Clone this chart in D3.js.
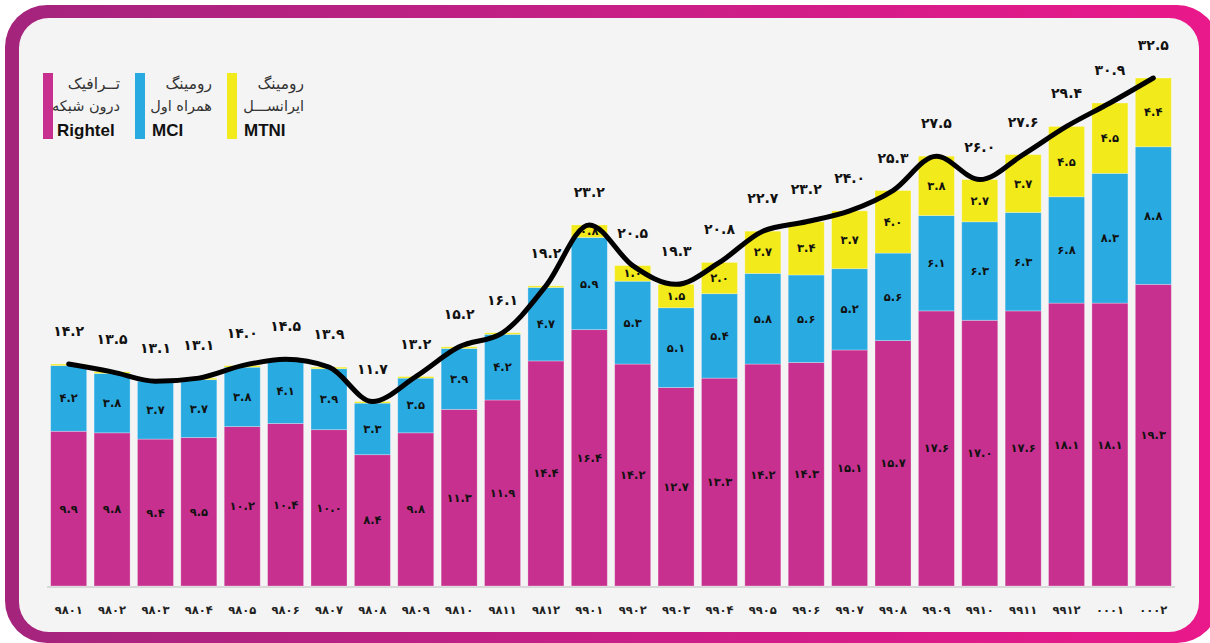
<!DOCTYPE html>
<html><head><meta charset="utf-8">
<script src="https://cdn.jsdelivr.net/npm/d3@7/dist/d3.min.js"></script>
<style>html,body{margin:0;padding:0;background:#fff;} svg{display:block;}</style>
</head><body><svg id="c" width="1210" height="643"></svg>
<script>
// ---- data ----
const months = ["۹۸۰۱","۹۸۰۲","۹۸۰۳","۹۸۰۴","۹۸۰۵","۹۸۰۶","۹۸۰۷","۹۸۰۸","۹۸۰۹","۹۸۱۰","۹۸۱۱","۹۸۱۲",
                "۹۹۰۱","۹۹۰۲","۹۹۰۳","۹۹۰۴","۹۹۰۵","۹۹۰۶","۹۹۰۷","۹۹۰۸","۹۹۰۹","۹۹۱۰","۹۹۱۱","۹۹۱۲","۰۰۰۱","۰۰۰۲"];
const rightel = [9.9,9.8,9.4,9.5,10.2,10.4,10.0,8.4,9.8,11.3,11.9,14.4,16.4,14.2,12.7,13.3,14.2,14.3,15.1,15.7,17.6,17.0,17.6,18.1,18.1,19.3];
const mci     = [4.2,3.8,3.7,3.7,3.8,4.1,3.9,3.3,3.5,3.9,4.2,4.7,5.9,5.3,5.1,5.4,5.8,5.6,5.2,5.6,6.1,6.3,6.3,6.8,8.3,8.8];
const mtni    = [0.1,0.1,0.0,0.1,0.1,0.0,0.1,0.1,0.1,0.1,0.1,0.1,0.8,1.0,1.5,2.0,2.7,3.4,3.7,4.0,3.8,2.7,3.7,4.5,4.5,4.4];
const totals  = [14.2,13.5,13.1,13.1,14.0,14.5,13.9,11.7,13.2,15.2,16.1,19.2,23.2,20.5,19.3,20.8,22.7,23.2,24.0,25.3,27.5,26.0,27.6,29.4,30.9,32.5];
const seriesKeys = ["rightel","mci","mtni"];
const seriesColors = ["#c8308f","#29abe2","#f3ea1b"];
const legendLine1 = ["تــرافیک","رومینگ","رومینگ"];
const legendLine2 = ["درون شبکه","همراه اول","ایرانســـل"];
const legendLatin = ["Rightel","MCI","MTNI"];

// ---- helpers ----
const faDigits = "۰۱۲۳۴۵۶۷۸۹";
const toFa = s => String(s).replace(/[0-9]/g, d => faDigits[+d]);
const fmt = v => toFa(v.toFixed(1));

const svg = d3.select("#c");
const W = 1210, H = 643;

// ---- frame ----
const defs = svg.append("defs");
const grad = defs.append("linearGradient").attr("id","frameGrad").attr("x1","0").attr("x2","1").attr("y1","0").attr("y2","0");
grad.append("stop").attr("offset","0").attr("stop-color","#a4247c");
grad.append("stop").attr("offset","0.5").attr("stop-color","#c71f86");
grad.append("stop").attr("offset","1").attr("stop-color","#ea188b");
svg.append("rect").attr("x",0).attr("y",0).attr("width",W).attr("height",H).attr("fill","#fff");
svg.append("rect").attr("x",5).attr("y",5).attr("width",1214).attr("height",638).attr("rx",42).attr("ry",42).attr("fill","url(#frameGrad)");
svg.append("rect").attr("x",19).attr("y",18).attr("width",1180).attr("height",614).attr("rx",30).attr("ry",30).attr("fill","#f4f4f4");

// ---- scales ----
const x = d3.scaleBand().domain(months).range([47, 1175]).paddingInner(0.17).paddingOuter(0.085);
const y = d3.scaleLinear().domain([0, 32.5]).range([586, 78]);

// ---- stack ----
const rows = months.map((m, i) => ({month: m, rightel: rightel[i], mci: mci[i], mtni: mtni[i], total: totals[i]}));
const stack = d3.stack().keys(seriesKeys)(rows);

// baseline
svg.append("line").attr("x1",47).attr("x2",1175).attr("y1",y(0)+1).attr("y2",y(0)+1)
   .attr("stroke","#d8d8d8").attr("stroke-width",2);

const layers = svg.append("g").selectAll("g").data(stack).join("g")
  .attr("fill", (d, i) => seriesColors[i]);
layers.selectAll("rect").data(d => d).join("rect")
  .attr("x", d => x(d.data.month))
  .attr("width", x.bandwidth())
  .attr("y", d => y(d[1]))
  .attr("height", d => Math.max(0, y(d[0]) - y(d[1])))
  .attr("stroke", "rgba(255,255,255,0.35)").attr("stroke-width", 0.8);

// segment labels
const segLabels = svg.append("g").attr("font-family","DejaVu Sans").attr("font-weight","bold")
  .attr("font-size", 11.5).attr("fill","#111").attr("text-anchor","middle");
stack.forEach((layer) => {
  segLabels.append("g").selectAll("text").data(layer.filter(d => (d[1]-d[0]) >= 0.5)).join("text")
    .attr("x", d => x(d.data.month) + x.bandwidth()/2)
    .attr("y", d => (y(d[0]) + y(d[1]))/2)
    .attr("dy", "0.35em")
    .text(d => fmt(d[1]-d[0]));
});

// total line
const line = d3.line()
  .x(d => x(d.month) + x.bandwidth()/2)
  .y(d => y(d.rightel + d.mci + d.mtni))
  .curve(d3.curveMonotoneX);
svg.append("path").datum(rows).attr("d", line).attr("fill","none")
  .attr("stroke","#000").attr("stroke-width",5).attr("stroke-linecap","round").attr("stroke-linejoin","round");

// total labels
svg.append("g").attr("font-family","DejaVu Sans").attr("font-weight","bold").attr("font-size",14)
  .attr("fill","#111").attr("text-anchor","middle")
  .selectAll("text").data(rows).join("text")
  .attr("x", d => x(d.month) + x.bandwidth()/2)
  .attr("y", d => y(d.rightel + d.mci + d.mtni) - 28)
  .text(d => fmt(d.total));

// x axis
const xAxis = svg.append("g").attr("transform", `translate(0,${y(0)})`)
  .call(d3.axisBottom(x).tickSize(0).tickPadding(20));
xAxis.select(".domain").remove();
xAxis.selectAll("text").attr("font-family","DejaVu Sans").attr("font-weight","bold")
  .attr("font-size",11.5).attr("fill","#222");

// legend
const legX = [43, 135, 227];
const leg = svg.append("g");
seriesKeys.forEach((k, i) => {
  const g = leg.append("g").attr("transform", `translate(${legX[i]},0)`);
  g.append("rect").attr("x",0).attr("y",73).attr("width",10).attr("height",66).attr("fill",seriesColors[i]);
  g.append("text").attr("x",77).attr("y",89).attr("text-anchor","end")
    .attr("font-family","DejaVu Sans").attr("font-size",15.5).attr("fill","#333").text(legendLine1[i]);
  g.append("text").attr("x",77).attr("y",111).attr("text-anchor","end")
    .attr("font-family","DejaVu Sans").attr("font-size",14.5).attr("fill","#333").text(legendLine2[i]);
  g.append("text").attr("x",14 + (i>0?3:0)).attr("y",136)
    .attr("font-family","Liberation Sans").attr("font-weight","bold").attr("font-size",17).attr("fill","#111").text(legendLatin[i]);
});
</script></body></html>
